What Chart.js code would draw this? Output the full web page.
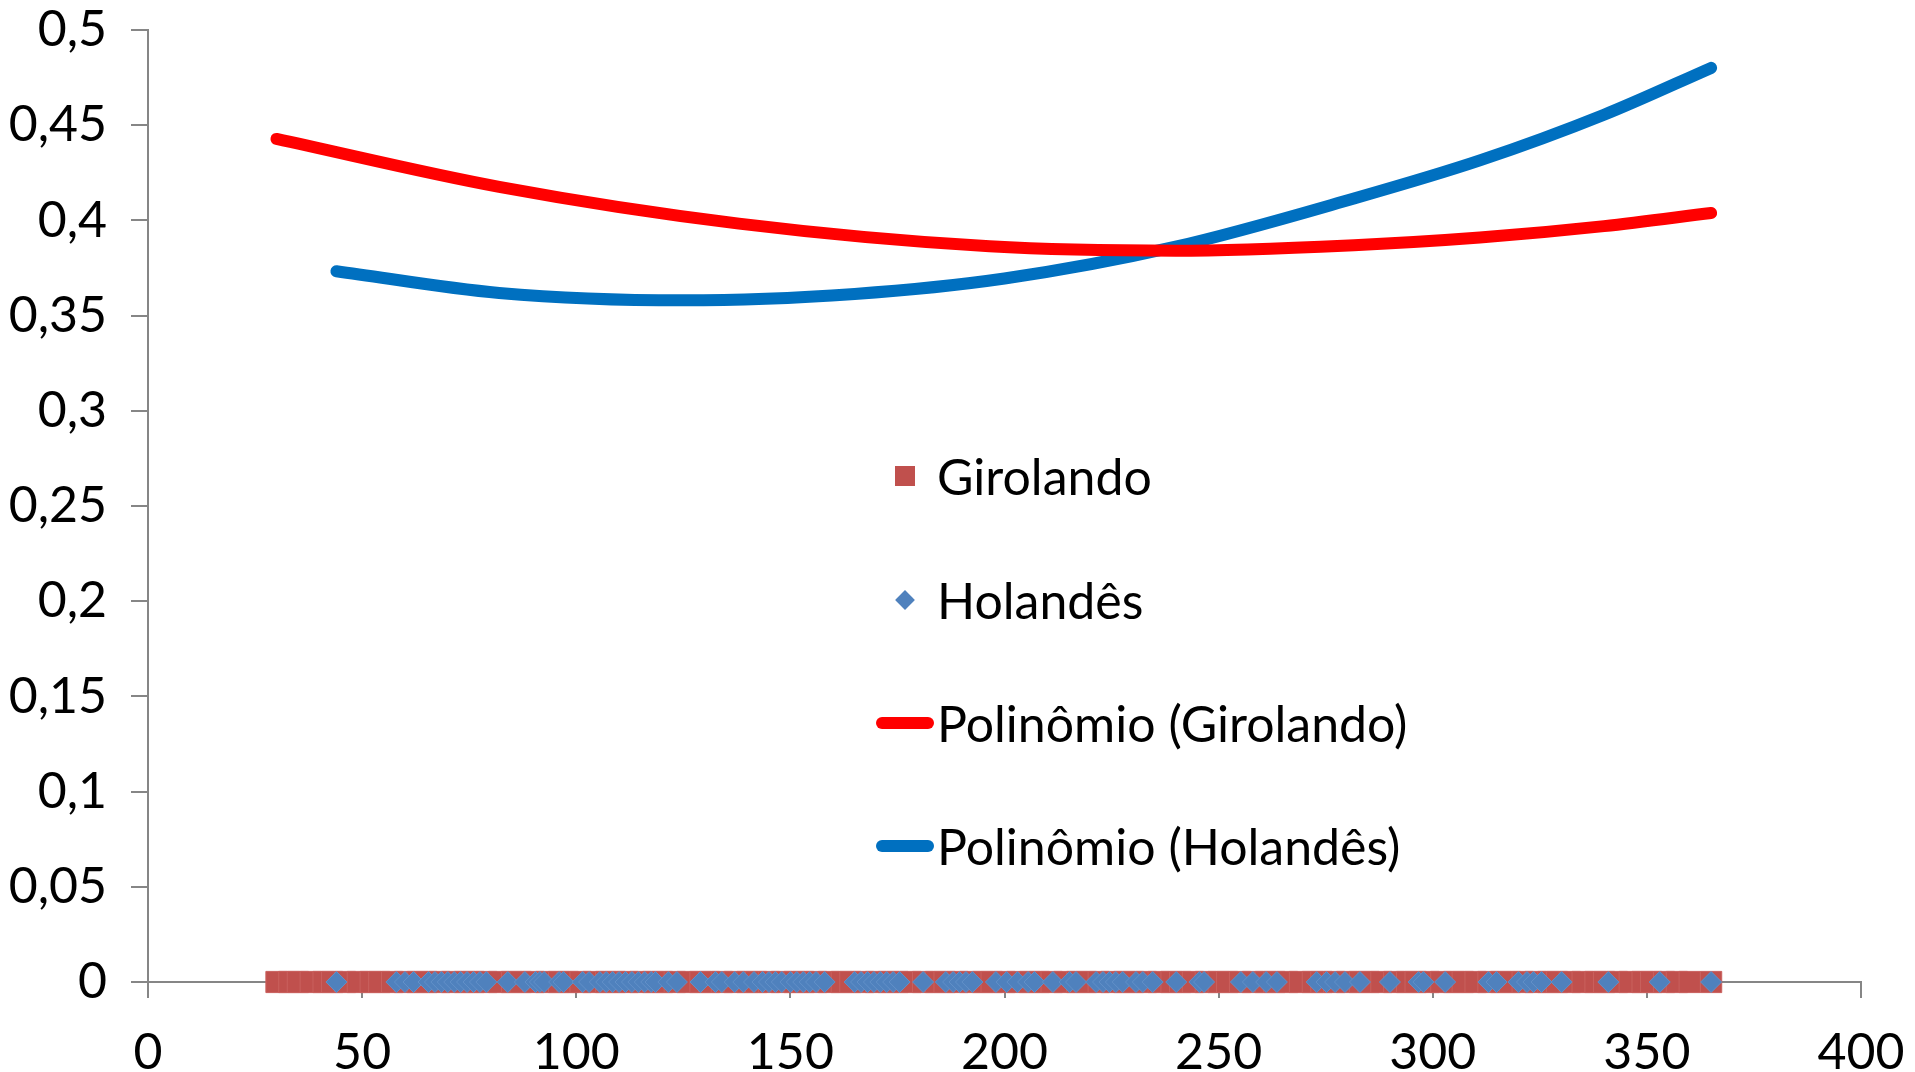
<!DOCTYPE html>
<html>
<head>
<meta charset="utf-8">
<script src="https://cdn.jsdelivr.net/npm/chart.js@4/dist/chart.umd.min.js"></script>
<style>
  html, body { margin: 0; padding: 0; background: #ffffff; }
  #wrap { position: relative; width: 1915px; height: 1072px; }
  #c { position: absolute; left: 0; top: 0; }
  #legend { position: absolute; left: 0; top: 0; font-family: Lato, "Open Sans", sans-serif; font-size: 50px; color: #000; }
  .row { position: absolute; left: 866px; height: 60px; display: flex; align-items: center; white-space: nowrap; }
  .mk { width: 71px; height: 60px; position: relative; }
  .sq { position: absolute; left: 29px; top: 20px; width: 20px; height: 20px; }
  .dm { position: absolute; left: 32px; top: 23px; width: 14px; height: 14px; transform: rotate(45deg); }
  .ln { position: absolute; left: 10px; top: 24px; width: 58px; height: 12px; border-radius: 6px; }
</style>
</head>
<body>
<div id="wrap">
  <canvas id="c" width="1915" height="1072"></canvas>
  <div id="legend"></div>
</div>
<script>
// ---- data ----
const xTickLabels = ['0', '50', '100', '150', '200', '250', '300', '350', '400'];
const yTickLabels = ['0', '0,05', '0,1', '0,15', '0,2', '0,25', '0,3', '0,35', '0,4', '0,45', '0,5'];

const seriesNames = ['Girolando', 'Holandês', 'Polinômio (Girolando)', 'Polinômio (Holandês)'];

// Girolando observations (all plotted on the zero line)
const girolandoX = [30, 33, 35, 38, 41, 43, 46, 49, 52, 54, 57, 60, 63, 65, 68, 71, 74, 76, 79, 82,
  85, 87, 90, 93, 96, 98, 101, 104, 107, 109, 112, 115, 118, 120, 123, 126, 129, 131, 134, 137,
  140, 142, 145, 148, 151, 153, 156, 159, 162, 164, 167, 170, 173, 175, 178, 181, 184, 186, 189, 192,
  195, 197, 200, 203, 206, 208, 211, 214, 217, 219, 222, 225, 228, 230, 233, 236, 239, 241, 244, 247,
  250, 252, 255, 258, 261, 263, 266, 269, 272, 274, 277, 280, 283, 285, 288, 291, 294, 296, 299, 302,
  305, 307, 310, 313, 316, 318, 321, 324, 327, 329, 332, 335, 338, 340, 343, 346, 349, 351, 354, 357,
  360, 365];
const girolandoY = girolandoX.map(() => 0);

// Holandês observations (all plotted on the zero line)
const holandesX = [44, 58, 60, 62, 65.5, 67, 68.5, 70, 71.5, 73, 74.5, 76, 77.5, 79, 84, 88, 90.5, 91.5, 92.5,
  96, 97, 101.5, 103, 105.5, 107, 108.5, 110, 111.5, 113, 114.5, 116, 117.5, 118.5, 121.5, 123.5,
  129, 132.5, 134, 137, 139, 141.5, 143.5, 145, 146.5, 148, 150, 151.5, 153, 154.5, 156, 158,
  165, 166.5, 168, 169.5, 171, 172.5, 174, 175.5, 181, 186.3, 188, 189.5, 191, 192.5, 198, 200.5,
  203, 205.5, 207, 211.3, 215.2, 216.7, 221.4, 223, 224.5, 226, 227.6, 230.7, 232.3, 234.6, 240.1,
  245.5, 246.6, 255.2, 258, 261.1, 263.6, 272.9, 275.2, 277.2, 279.5, 283, 290, 296.7, 297.8, 302.9,
  313, 314.9, 320, 322, 323.5, 325.4, 330.1, 341, 353, 365];
const holandesY = holandesX.map(() => 0);

// Polynomial trend lines
const polyGirX = [30, 82, 138, 196.5, 240, 281.6, 311, 340, 365];
const polyGirY = [0.4428, 0.4176, 0.3983, 0.3864, 0.3841, 0.3870, 0.3910, 0.3970, 0.4039];
const polyHolX = [44, 82, 125, 165, 200, 240, 281.6, 311, 340, 365];
const polyHolY = [0.3733, 0.3619, 0.3580, 0.3614, 0.3695, 0.3862, 0.4115, 0.4315, 0.4555, 0.4801];

const colors = { gir: '#C0504D', hol: '#4F81BD', polyGir: '#FF0000', polyHol: '#0070C0', axis: '#868686' };

const toPts = (xs, ys) => xs.map((x, i) => ({ x: x, y: ys[i] }));

const FONT = { family: 'Lato, "Open Sans", sans-serif', size: 50 };

new Chart(document.getElementById('c'), {
  type: 'scatter',
  data: {
    datasets: [
      { label: seriesNames[1], data: toPts(holandesX, holandesY), order: 1, clip: false,
        pointStyle: 'rectRot', pointRadius: 10.5, backgroundColor: colors.hol, borderColor: '#6290c8', borderWidth: 1, showLine: false },
      { label: seriesNames[0], data: toPts(girolandoX, girolandoY), order: 2, clip: false,
        pointStyle: 'rect', pointRadius: 15, backgroundColor: colors.gir, borderColor: '#c9615e', borderWidth: 1, showLine: false },
      { label: seriesNames[2], data: toPts(polyGirX, polyGirY), order: 3, showLine: true, pointRadius: 0,
        borderColor: colors.polyGir, borderWidth: 12, borderCapStyle: 'round', borderJoinStyle: 'round',
        cubicInterpolationMode: 'monotone', fill: false },
      { label: seriesNames[3], data: toPts(polyHolX, polyHolY), order: 3, showLine: true, pointRadius: 0,
        borderColor: colors.polyHol, borderWidth: 12, borderCapStyle: 'round', borderJoinStyle: 'round',
        cubicInterpolationMode: 'monotone', fill: false }
    ]
  },
  options: {
    responsive: false,
    animation: false,
    events: [],
    layout: { padding: { left: 0, top: 30, right: 54, bottom: 0 } },
    plugins: { legend: { display: false }, tooltip: { enabled: false } },
    scales: {
      x: {
        type: 'linear', min: 0, max: 400,
        afterFit: (s) => { s.height = 90; s.paddingLeft = 0; s.paddingRight = 0; },
        border: { display: true, color: colors.axis, width: 2 },
        grid: { display: true, drawOnChartArea: false, drawTicks: true, tickLength: 16, color: colors.axis, lineWidth: 2 },
        ticks: { stepSize: 50, color: '#000', font: FONT, padding: 25, maxRotation: 0,
          callback: (v, i) => xTickLabels[i] }
      },
      y: {
        type: 'linear', min: 0, max: 0.5,
        afterFit: (s) => { s.width = 148; s.paddingTop = 0; s.paddingBottom = 0; },
        border: { display: true, color: colors.axis, width: 2 },
        grid: { display: true, drawOnChartArea: false, drawTicks: true, tickLength: 17, color: colors.axis, lineWidth: 2 },
        ticks: { stepSize: 0.05, color: '#000', font: FONT, padding: 24,
          callback: (v, i) => yTickLabels[i] }
      }
    }
  }
});

// Legend placed inside the plot, as in the reference
const legendItems = [
  { name: seriesNames[0], cls: 'sq', color: colors.gir, top: 446 },
  { name: seriesNames[1], cls: 'dm', color: colors.hol, top: 570 },
  { name: seriesNames[2], cls: 'ln', color: colors.polyGir, top: 693 },
  { name: seriesNames[3], cls: 'ln', color: colors.polyHol, top: 816 }
];
const lg = document.getElementById('legend');
legendItems.forEach(it => {
  const row = document.createElement('div');
  row.className = 'row';
  row.style.top = it.top + 'px';
  const mk = document.createElement('div');
  mk.className = 'mk';
  const sw = document.createElement('div');
  sw.className = it.cls;
  sw.style.background = it.color;
  mk.appendChild(sw);
  const tx = document.createElement('span');
  tx.textContent = it.name;
  row.appendChild(mk);
  row.appendChild(tx);
  lg.appendChild(row);
});
</script>
</body>
</html>
